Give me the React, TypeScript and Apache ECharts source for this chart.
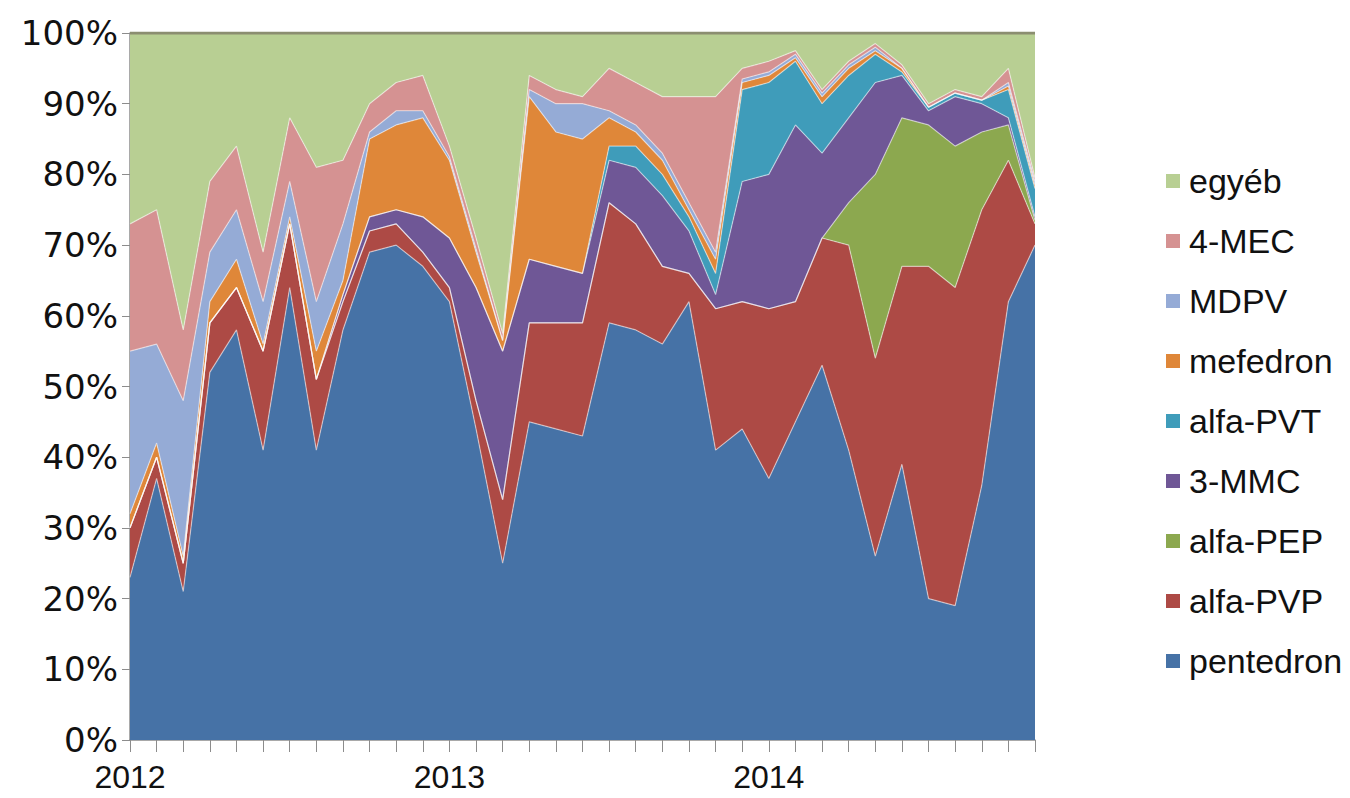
import React, { useEffect, useRef } from "react";
import * as echarts from "echarts";

const months = [
  "2012-01","2012-02","2012-03","2012-04","2012-05","2012-06","2012-07","2012-08","2012-09","2012-10","2012-11","2012-12",
  "2013-01","2013-02","2013-03","2013-04","2013-05","2013-06","2013-07","2013-08","2013-09","2013-10","2013-11","2013-12",
  "2014-01","2014-02","2014-03","2014-04","2014-05","2014-06","2014-07","2014-08","2014-09","2014-10","2014-11",
];
const yearLabels: Record<string, string> = { "2012-01": "2012", "2013-01": "2013", "2014-01": "2014" };

const pentedron = [23,37,21,52,58,41,64,41,58,69,70,67,62,44,25,45,44,43,59,58,56,62,41,44,37,45,53,41,26,39,20,19,36,62,70];
const alfaPVP = [7,3,4,7,6,14,9,10,4,3,3,2,2,4,9,14,15,16,17,15,11,4,20,18,24,17,18,29,28,28,47,45,39,20,3];
const alfaPEP = [0,0,0,0,0,0,0,0,0,0,0,0,0,0,0,0,0,0,0,0,0,0,0,0,0,0,0,6,26,21,20,20,11,5,0.5];
const mmc3 = [0,0,0,0,0,0,0,0,1,2,2,5,7,16,21,9,8,7,6,8,10,6,2,17,19,25,12,12,13,6,2,7,4,1,0.5];
const alfaPVT = [0,0,0,0,0,0,0,0,0,0,0,0,0,0,0,0,0,0,2,3,3,2,3,13,13,9,7,6,4,0.5,0.5,0.5,0.5,4,4];
const mefedron = [2,2,1,3,4,1,1,4,2,11,12,14,11,5,1.5,23,19,19,4,2,2,1,2,1,1,0.5,1,1,0.5,0.5,0,0,0,0.5,0.5];
const mdpv = [23,14,22,7,7,6,5,7,8,1,2,1,0.5,0.5,0,1,4,5,1,1,1,1,1,0.5,0.5,0.5,0.5,0.5,0.5,0,0,0,0,0.5,0.5];
const mec4 = [18,19,10,10,9,7,9,19,9,4,4,5,1.5,1.5,1,2,2,1,6,6,8,15,22,1.5,1.5,0.5,0.5,0.5,0.5,0.5,0.5,0.5,0.5,2,0.5];
const egyeb = [27,25,42,21,16,31,12,19,18,10,7,6,16,29,42.5,6,8,9,5,7,9,9,9,5,4,2.5,8,4,1.5,4.5,10,8,9,5,20.5];

const seriesNames = ["pentedron","alfa-PVP","alfa-PEP","3-MMC","alfa-PVT","mefedron","MDPV","4-MEC","egyéb"];
const seriesData = [pentedron, alfaPVP, alfaPEP, mmc3, alfaPVT, mefedron, mdpv, mec4, egyeb];
const seriesColors = ["#4672A6","#AD4A45","#8CA84F","#6F5796","#3F9CBA","#DF8739","#95ABD6","#D59292","#B8CF93"];
const legendOrder = ["egyéb","4-MEC","MDPV","mefedron","alfa-PVT","3-MMC","alfa-PEP","alfa-PVP","pentedron"];

const FONT = "'Liberation Sans', Arial, sans-serif";
const YFONT = "'DejaVu Sans', 'Liberation Sans', Arial, sans-serif";

export default function App() {
  const ref = useRef<HTMLDivElement>(null);
  useEffect(() => {
    if (!ref.current) return;
    const chart = echarts.init(ref.current, undefined, { renderer: "svg" });
    chart.setOption({
      animation: false,
      backgroundColor: "#ffffff",
      grid: { left: 130, right: 315, top: 33, bottom: 58, containLabel: false },
      legend: {
        orient: "vertical",
        left: 1161,
        top: 158,
        data: legendOrder,
        icon: "rect",
        itemWidth: 14,
        itemHeight: 14,
        itemGap: 24,
        textStyle: { fontFamily: FONT, fontSize: 34, color: "#111", lineHeight: 36, padding: [0, 0, 0, 4] },
        selectedMode: false,
      },
      xAxis: {
        type: "category",
        data: months,
        boundaryGap: false,
        axisLine: { show: true, lineStyle: { color: "#8c8c8c", width: 1.5 } },
        axisTick: { show: true, interval: 0, length: 12, lineStyle: { color: "#8c8c8c" } },
        axisLabel: {
          interval: 0,
          margin: 21,
          fontFamily: FONT,
          fontSize: 32,
          color: "#111",
          formatter: (v: string) => yearLabels[v] || "",
        },
        splitLine: { show: false },
      },
      yAxis: {
        type: "value",
        min: 0,
        max: 100,
        interval: 10,
        axisLine: { show: true, lineStyle: { color: "#8c8c8c", width: 1.5 } },
        axisTick: { show: true, length: 8, lineStyle: { color: "#8c8c8c" } },
        axisLabel: { margin: 12, fontFamily: YFONT, fontSize: 34, color: "#111", formatter: "{value}%" },
        splitLine: { show: false },
      },
      series: seriesNames.map((name, k) => ({
        name,
        type: "line",
        stack: "total",
        data: seriesData[k],
        showSymbol: false,
        symbol: "none",
        itemStyle: { color: seriesColors[k] },
        lineStyle:
          name === "egyéb"
            ? { color: "#8b8e70", width: 3 }
            : { color: "rgba(255,255,255,0.5)", width: 1.2 },
        areaStyle: { color: seriesColors[k], opacity: 1 },
        emphasis: { disabled: true },
        z: 2,
      })),
    });
    return () => chart.dispose();
  }, []);
  return (
    <div
      ref={ref}
      style={{ position: "absolute", left: 0, top: 0, width: 1350, height: 798 }}
    />
  );
}
